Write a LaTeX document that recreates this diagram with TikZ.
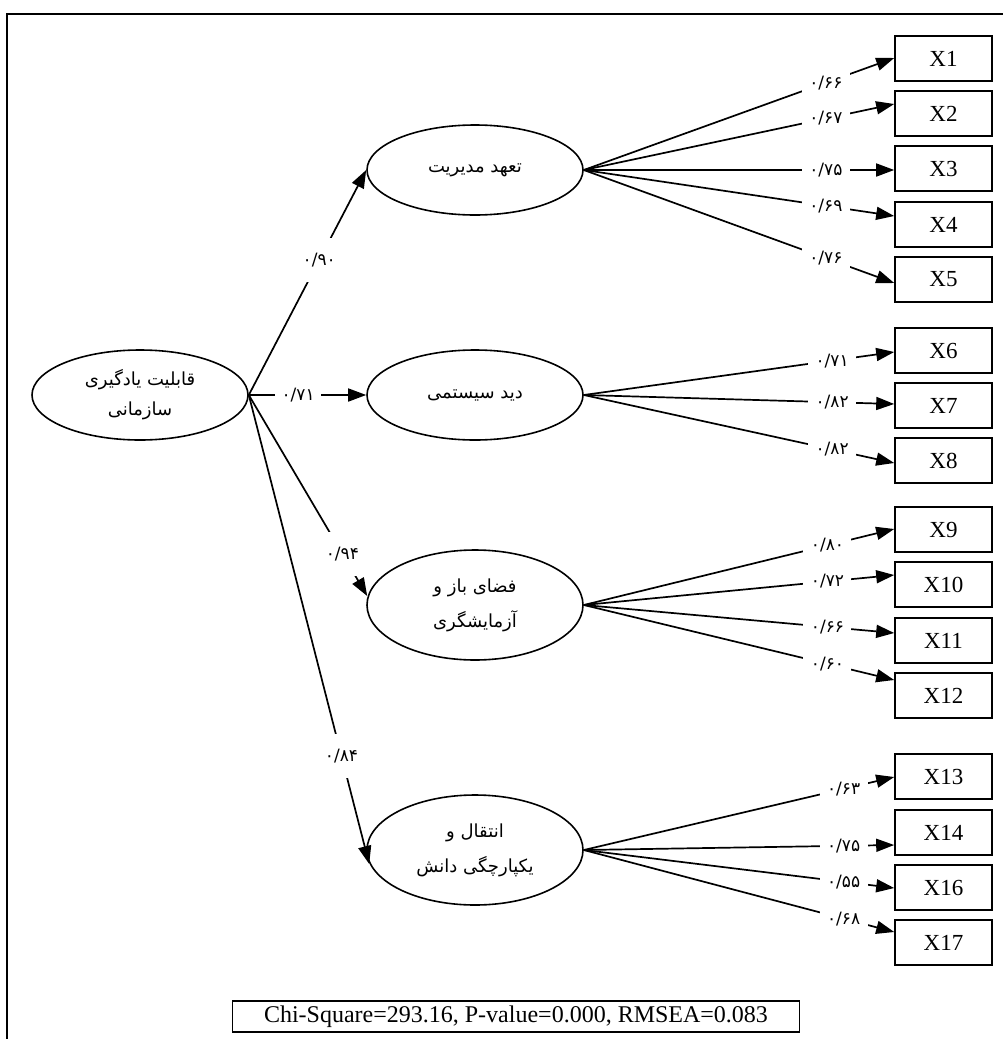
\documentclass[tikz,border=0pt]{standalone}
\usepackage{fontspec}
\setmainfont{Liberation Serif}
\newfontfamily\farsifont[Script=Arabic]{DejaVu Sans}
\TeXXeTstate=1
\usetikzlibrary{arrows.meta,shapes.geometric,calc}
\begin{document}
\begin{tikzpicture}[x=1pt,y=-1pt,line width=1.7pt,
  lat/.style={ellipse, draw, line width=1.6pt, minimum width=216pt, minimum height=90pt, inner sep=0pt, align=center, font=\farsifont\fontsize{18}{30}\selectfont},
  lattall/.style={lat, minimum height=110pt, font=\farsifont\fontsize{18}{35}\selectfont},
  obs/.style={draw, rectangle, line width=1.6pt, minimum width=97pt, minimum height=45pt, inner sep=0pt, font=\fontsize{23}{26}\selectfont},
  load/.style={fill=white, inner sep=0pt, minimum width=48pt, minimum height=24pt, font=\farsifont\fontsize{17}{18}\selectfont},
  sload/.style={load, minimum width=46pt, minimum height=44pt},
  arr/.style={-{Triangle[length=18pt,width=13pt]}},
]
\useasboundingbox (0,0) rectangle (1003,1039);
% frame
\draw[line width=2pt] (7,1039) -- (7,14) -- (1003,14);

% latent variables
\node[lat] (M) at (140,395) {\beginR قابلیت یادگیری\endR\\\beginR سازمانی\endR};
\node[lat] (E1) at (475,170) {\beginR تعهد مدیریت\endR};
\node[lat] (E2) at (475,395) {\beginR دید سیستمی\endR};
\node[lattall] (E3) at (475,605) {\beginR فضای باز و\endR\\\beginR آزمایشگری\endR};
\node[lattall] (E4) at (475,850) {\beginR انتقال و\endR\\\beginR یکپارچگی دانش\endR};

% observed variables
\foreach \n/\y in {1/58.5,2/113.5,3/168.5,4/224.5,5/279.5,6/350.5,7/405.5,8/460.5,9/529.5,10/584.5,11/640.5,12/695.5,13/776.5,14/832.5,16/887.5,17/942.5}
  \node[obs] (X\n) at (943.5,\y) {X\n};

% structural paths
\draw[arr] (M.east) -- node[sload,pos=.6]{۰/۹۰} (E1.west);
\draw[arr] (M.east) -- node[sload,pos=.42]{۰/۷۱} (E2.west);
\draw[arr] (M.east) -- node[sload,pos=.79]{۰/۹۴} ($(E3.west)+(1,-9)$);
\draw[arr] (M.east) -- node[sload,pos=.77]{۰/۸۴} ($(E4.west)+(3,14)$);

% loadings E1
\draw[arr] (E1.east) -- node[load,pos=.78]{۰/۶۶} ($(X1.west)+(0,-0.5)$);
\draw[arr] (E1.east) -- node[load,pos=.78]{۰/۶۷} ($(X2.west)+(0,-9.5)$);
\draw[arr] (E1.east) -- node[load,pos=.78]{۰/۷۵} ($(X3.west)+(0,1.5)$);
\draw[arr] (E1.east) -- node[load,pos=.78]{۰/۶۹} ($(X4.west)+(0,-8.5)$);
\draw[arr] (E1.east) -- node[load,pos=.78]{۰/۷۶} ($(X5.west)+(0,3.5)$);
% loadings E2
\draw[arr] (E2.east) -- node[load,pos=.8]{۰/۷۱} ($(X6.west)+(0,1.5)$);
\draw[arr] (E2.east) -- node[load,pos=.8]{۰/۸۲} ($(X7.west)+(0,-1.5)$);
\draw[arr] (E2.east) -- node[load,pos=.8]{۰/۸۲} ($(X8.west)+(0,2.5)$);
% loadings E3
\draw[arr] (E3.east) -- node[load,pos=.785]{۰/۸۰} ($(X9.west)+(0,-0.5)$);
\draw[arr] (E3.east) -- node[load,pos=.785]{۰/۷۲} ($(X10.west)+(0,-9.5)$);
\draw[arr] (E3.east) -- node[load,pos=.785]{۰/۶۶} ($(X11.west)+(0,-7.5)$);
\draw[arr] (E3.east) -- node[load,pos=.785]{۰/۶۰} ($(X12.west)+(0,-15.5)$);
% loadings E4
\draw[arr] (E4.east) -- node[load,pos=.837]{۰/۶۳} ($(X13.west)+(0,0.5)$);
\draw[arr] (E4.east) -- node[load,pos=.837]{۰/۷۵} ($(X14.west)+(0,12.5)$);
\draw[arr] (E4.east) -- node[load,pos=.837]{۰/۵۵} ($(X16.west)+(0,0.5)$);
\draw[arr] (E4.east) -- node[load,pos=.837]{۰/۶۸} ($(X17.west)+(0,-10.5)$);

% fit statistics
\node[draw, line width=1.2pt, minimum width=567pt, minimum height=31pt, inner sep=0pt, font=\fontsize{24}{26}\selectfont] (fit) at (516,1016.5) {Chi-Square=293.16, P-value=0.000, RMSEA=0.083};
\end{tikzpicture}
\end{document}
